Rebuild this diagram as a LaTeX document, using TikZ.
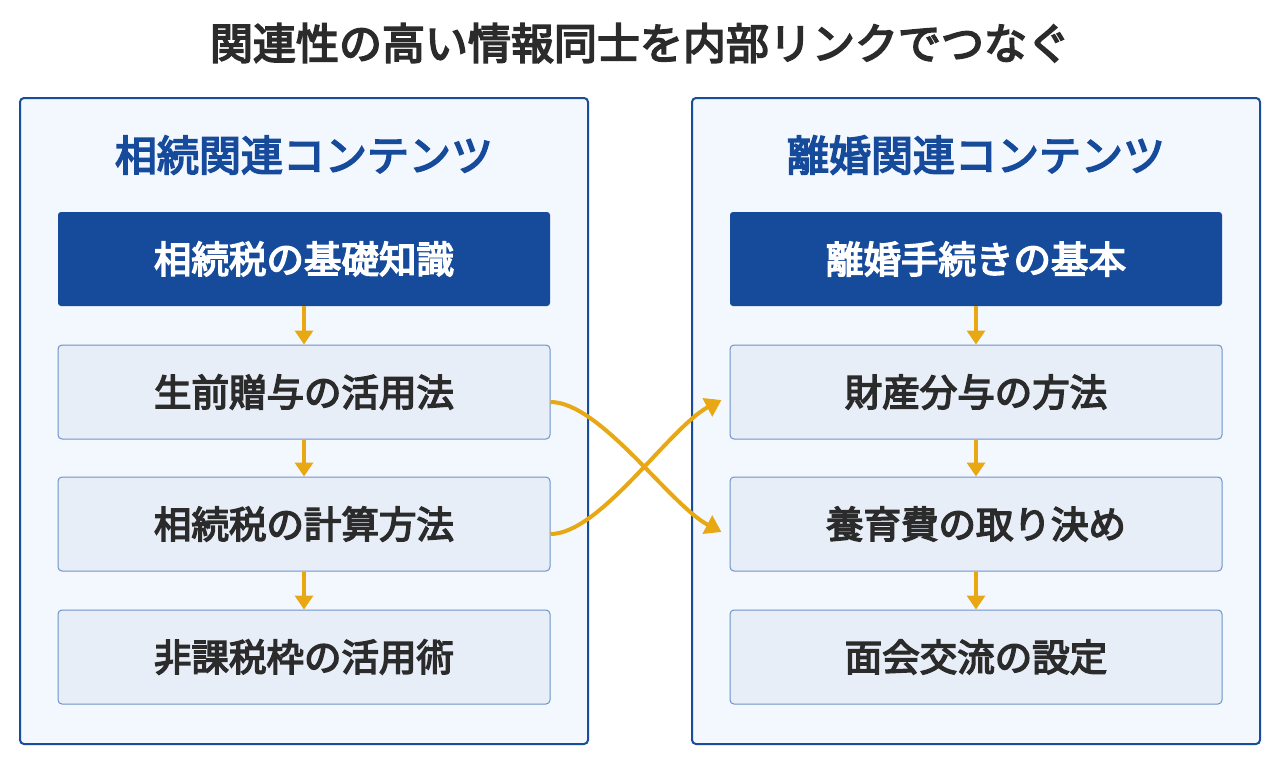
\documentclass[tikz,border=0pt]{standalone}
\usepackage{fontspec}
\setmainfont{Noto Sans CJK JP}
\newfontfamily\medfont{Noto Sans CJK JP}[FakeBold=4]
\usetikzlibrary{arrows.meta}
\definecolor{navy}{HTML}{164A9A}
\definecolor{panelfill}{HTML}{F3F7FE}
\definecolor{panelline}{HTML}{1A4C9C}
\definecolor{boxfill}{HTML}{E8EEF8}
\definecolor{boxline}{HTML}{6F93C8}
\definecolor{ink}{HTML}{2B2B2B}
\definecolor{gold}{HTML}{E8A814}
\tikzset{
  panel/.style={draw=panelline, line width=2pt, fill=panelfill, rounded corners=4pt, minimum width=568pt, minimum height=646pt, inner sep=0pt},
  ptitle/.style={text=navy, font=\medfont\fontsize{42}{50}\selectfont, inner sep=0pt},
  headbox/.style={fill=navy, rounded corners=3pt, minimum width=492pt, minimum height=94pt, text=white, font=\medfont\fontsize{37.5}{44}\selectfont, inner sep=0pt},
  itembox/.style={draw=boxline, line width=1pt, fill=boxfill, rounded corners=4pt, minimum width=492pt, minimum height=94pt, text=ink, font=\medfont\fontsize{37.5}{44}\selectfont, inner sep=0pt},
  flow/.style={draw=gold, line width=3.5pt, -{Triangle[width=18pt,length=14pt]}},
  link/.style={draw=gold, line width=4pt, -{Triangle[width=20pt,length=16pt]}},
}
\begin{document}
\begin{tikzpicture}[x=1pt,y=-1pt]
\useasboundingbox[fill=white] (0,0) rectangle (1280,764);
\node[text=ink, font=\medfont\fontsize{43}{50}\selectfont, inner sep=0pt] (title) at (640,43) {関連性の高い情報同士を内部リンクでつなぐ};
% left panel
\node[panel] (lp) at (304,421) {};
\node[ptitle] (lt) at (304,155) {相続関連コンテンツ};
\node[headbox] (l1) at (304,259) {相続税の基礎知識};
\node[itembox] (l2) at (304,392) {生前贈与の活用法};
\node[itembox] (l3) at (304,524) {相続税の計算方法};
\node[itembox] (l4) at (304,657) {非課税枠の活用術};
% right panel
\node[panel] (rp) at (976,421) {};
\node[ptitle] (rt) at (976,155) {離婚関連コンテンツ};
\node[headbox] (r1) at (976,259) {離婚手続きの基本};
\node[itembox] (r2) at (976,392) {財産分与の方法};
\node[itembox] (r3) at (976,524) {養育費の取り決め};
\node[itembox] (r4) at (976,657) {面会交流の設定};
% vertical flows
\draw[flow] (l1.south) -- (l2.north);
\draw[flow] (l2.south) -- (l3.north);
\draw[flow] (l3.south) -- (l4.north);
\draw[flow] (r1.south) -- (r2.north);
\draw[flow] (r2.south) -- (r3.north);
\draw[flow] (r3.south) -- (r4.north);
% cross links
\coordinate (a1) at ([yshift=-10pt]l2.east);
\coordinate (a2) at ([yshift=-10pt]l3.east);
\coordinate (b1) at ([xshift=-8pt,yshift=-8pt]r2.west);
\coordinate (b2) at ([xshift=-8pt,yshift=-8pt]r3.west);
\draw[link] (a1) .. controls (600,402) and (670,505) .. (b2);
\draw[link] (a2) .. controls (600,534) and (670,427) .. (b1);
\end{tikzpicture}
\end{document}
